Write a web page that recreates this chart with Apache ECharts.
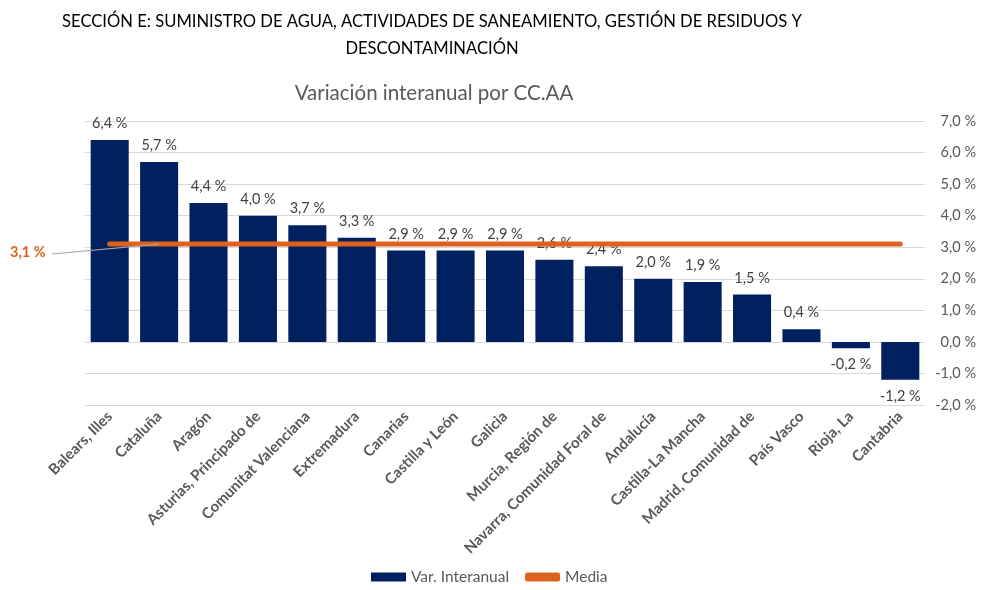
<!DOCTYPE html>
<html>
<head>
<meta charset="utf-8">
<script src="https://cdn.jsdelivr.net/npm/echarts@6/dist/echarts.min.js"></script>
<style>
  html, body { margin: 0; padding: 0; background: #fff; }
</style>
</head>
<body>
<div id="chartsId" style="width: 984px; height: 590px;"></div>
<script>
const regiones = ['Balears, Illes', 'Cataluña', 'Aragón', 'Asturias, Principado de', 'Comunitat Valenciana',
  'Extremadura', 'Canarias', 'Castilla y León', 'Galicia', 'Murcia, Región de', 'Navarra, Comunidad Foral de',
  'Andalucía', 'Castilla-La Mancha', 'Madrid, Comunidad de', 'País Vasco', 'Rioja, La', 'Cantabria']
const variacion = [6.4, 5.7, 4.4, 4.0, 3.7, 3.3, 2.9, 2.9, 2.9, 2.6, 2.4, 2.0, 1.9, 1.5, 0.4, -0.2, -1.2]
const media = 3.1
const ejeMin = -2
const ejeMax = 7

const fmt = (v) => v.toFixed(1).replace('.', ',') + ' %'
const font = 'Lato'

const chartDom = document.getElementById('chartsId')
const myChart = echarts.init(chartDom)

const option = {
  animation: false,
  textStyle: { fontFamily: font },
  title: [
    {
      text: 'SECCIÓN E: SUMINISTRO DE AGUA, ACTIVIDADES DE SANEAMIENTO, GESTIÓN DE RESIDUOS Y\nDESCONTAMINACIÓN',
      left: 427,
      top: 3,
      textAlign: 'center',
      textStyle: { fontFamily: font, fontSize: 16.6, fontWeight: 'normal', color: '#000', lineHeight: 27, align: 'center' }
    },
    {
      text: 'Variación interanual por CC.AA',
      left: 429,
      top: 78,
      textAlign: 'center',
      textStyle: { fontFamily: font, fontSize: 20.5, fontWeight: 'normal', color: '#595959' }
    }
  ],
  legend: {
    bottom: 0,
    left: 366,
    itemWidth: 35,
    itemHeight: 9,
    itemGap: 16,
    textStyle: { fontFamily: font, fontSize: 15.5, color: '#595959' },
    data: [
      { name: 'Var. Interanual', icon: 'rect' },
      { name: 'Media', icon: 'roundRect' }
    ]
  },
  grid: { left: 85, right: 59, top: 121, bottom: 185 },
  xAxis: {
    type: 'category',
    data: regiones,
    position: 'bottom',
    axisLine: { show: false },
    axisTick: { show: false },
    axisLabel: {
      rotate: 45,
      interval: 0,
      margin: 9,
      fontFamily: font,
      fontSize: 15,
      fontWeight: 'bold',
      color: '#595959'
    }
  },
  yAxis: {
    type: 'value',
    position: 'right',
    min: ejeMin,
    max: ejeMax,
    interval: 1,
    axisLine: { show: false },
    axisTick: { show: false },
    splitLine: { lineStyle: { color: '#d9d9d9', width: 1 } },
    axisLabel: {
      formatter: fmt,
      align: 'right',
      margin: 51,
      fontFamily: font,
      fontSize: 14.5,
      color: '#595959'
    }
  },
  series: [
    {
      name: 'Var. Interanual',
      type: 'bar',
      barCategoryGap: '23%',
      itemStyle: { color: '#002060' },
      label: {
        show: true,
        formatter: (p) => fmt(p.value),
        fontFamily: font,
        fontSize: 14.5,
        color: '#404040',
        distance: 9
      },
      data: variacion.map((v) => ({ value: v, label: { position: v < 0 ? 'bottom' : 'top' } })),
      z: 2
    },
    {
      name: 'Media',
      type: 'line',
      symbol: 'none',
      itemStyle: { color: '#DD6220' },
      lineStyle: { color: '#DD6220', width: 5, cap: 'round' },
      data: regiones.map(() => media),
      z: 3
    }
  ]
}

option && myChart.setOption(option)

// etiqueta de la media con su línea guía
const fin = myChart.convertToPixel({ gridIndex: 0 }, [1, media])
myChart.setOption({
  graphic: [
    {
      type: 'line',
      shape: { x1: 52, y1: 254, x2: fin[0], y2: fin[1] },
      style: { stroke: '#a6a6a6', lineWidth: 1.2 },
      z: 10
    },
    {
      type: 'text',
      left: 10,
      top: 245,
      style: { text: fmt(media), fill: '#DD6220', font: 'bold 14.5px ' + font },
      z: 10
    }
  ]
})
</script>
</body>
</html>
